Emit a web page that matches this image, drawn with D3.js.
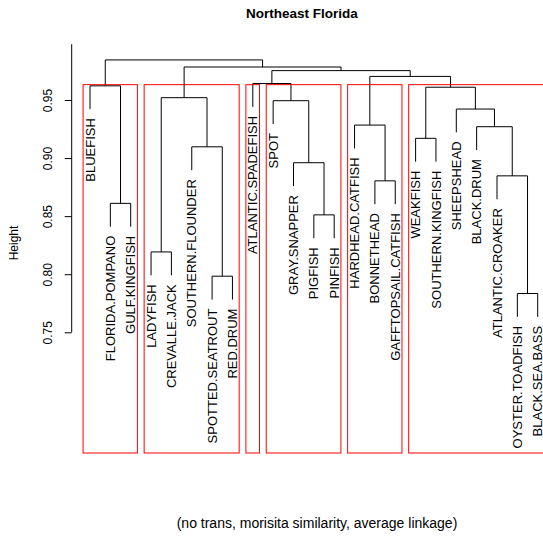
<!DOCTYPE html>
<html>
<head>
<meta charset="utf-8">
<script src="https://cdn.jsdelivr.net/npm/d3@7"></script>
<style>
  body { margin: 0; background: #fff; }
  svg { display: block; font-family: "Liberation Sans", Arial, sans-serif; }
</style>
</head>
<body>
<svg id="chart" width="543" height="538"></svg>
<script>
// leaves in dendrogram order
var labels = ["BLUEFISH", "FLORIDA.POMPANO", "GULF.KINGFISH", "LADYFISH", "CREVALLE.JACK",
  "SOUTHERN.FLOUNDER", "SPOTTED.SEATROUT", "RED.DRUM", "ATLANTIC.SPADEFISH", "SPOT",
  "GRAY.SNAPPER", "PIGFISH", "PINFISH", "HARDHEAD.CATFISH", "BONNETHEAD",
  "GAFFTOPSAIL.CATFISH", "WEAKFISH", "SOUTHERN.KINGFISH", "SHEEPSHEAD", "BLACK.DRUM",
  "ATLANTIC.CROAKER", "OYSTER.TOADFISH", "BLACK.SEA.BASS"];

// hclust style merge table: negative = leaf (1-based), positive = earlier merge row
var mergeLeft  = [-22, -7, -4, -12, -2, -15, -21, -11, -6, -17, -20, -14, -19, -10, 3, 10, -1, -9, 12, 18, 15, 17];
var mergeRight = [-23, -8, -5, -13, -3, -16, 1, 4, 2, -18, 7, 6, 11, 8, 9, 13, 5, 14, 16, 19, 20, 21];
var mergeHeight = [0.7834, 0.7983, 0.8192, 0.8511, 0.861, 0.8804, 0.8847, 0.896, 0.9097, 0.917,
  0.927, 0.9284, 0.9422, 0.9494, 0.952, 0.961, 0.9622, 0.9642, 0.9703, 0.9753, 0.9784, 0.9845];

var yTicks = [0.75, 0.80, 0.85, 0.90, 0.95];
var k = 6;

var svg = d3.select("#chart");

var xScale = d3.scaleLinear().domain([1, labels.length]).range([90, 537.7]);
var yScale = d3.scaleLinear().domain([0.75, 0.95]).range([332.3, 100]);

var hang = 0.1 * (d3.max(mergeHeight) - d3.min(mergeHeight));
var plotBottom = 453;

// node positions
var nodeX = [];
function childX(c) { return c < 0 ? xScale(-c) : nodeX[c - 1]; }
for (var i = 0; i < mergeHeight.length; i++) {
  nodeX.push((childX(mergeLeft[i]) + childX(mergeRight[i])) / 2);
}
function childY(c, parentH) { return c < 0 ? parentH - hang : mergeHeight[c - 1]; }

var tree = svg.append("g").attr("fill", "none").attr("stroke", "#000").attr("stroke-width", 1);
mergeHeight.forEach(function (h, i) {
  var l = mergeLeft[i], r = mergeRight[i];
  var p = d3.path();
  p.moveTo(childX(l), yScale(childY(l, h)));
  p.lineTo(childX(l), yScale(h));
  p.lineTo(childX(r), yScale(h));
  p.lineTo(childX(r), yScale(childY(r, h)));
  tree.append("path").attr("d", p.toString());
});

// leaf labels
var leafEnd = [];
mergeHeight.forEach(function (h, i) {
  [mergeLeft[i], mergeRight[i]].forEach(function (c) {
    if (c < 0) leafEnd[-c - 1] = h - hang;
  });
});
svg.append("g")
  .selectAll("text")
  .data(labels)
  .enter()
  .append("text")
  .attr("transform", (d, i) => "translate(" + xScale(i + 1) + "," + (yScale(leafEnd[i]) + 9) + ") rotate(-90)")
  .attr("dy", "0.35em")
  .attr("text-anchor", "end")
  .style("font-size", "13px")
  .attr("fill", "#000")
  .text(d => d);

// rect.hclust boxes: cut at top k-1 merges
var n = mergeHeight.length;
var topRows = d3.range(n - (k - 1), n).map(d => d + 1);
var clusters = [];
function leavesOf(c) {
  if (c < 0) return [-c];
  return leavesOf(mergeLeft[c - 1]).concat(leavesOf(mergeRight[c - 1]));
}
function collect(c) {
  if (c > 0 && topRows.indexOf(c) >= 0) {
    collect(mergeLeft[c - 1]);
    collect(mergeRight[c - 1]);
  } else {
    var lv = leavesOf(c);
    clusters.push([d3.min(lv), d3.max(lv)]);
  }
}
collect(n);
var boxTop = (mergeHeight[n - k] + mergeHeight[n - k + 1]) / 2;

svg.append("g")
  .selectAll("rect")
  .data(clusters)
  .enter()
  .append("rect")
  .attr("x", d => xScale(d[0] - 1 + 0.66))
  .attr("y", yScale(boxTop))
  .attr("width", d => xScale(d[1] + 0.33) - xScale(d[0] - 1 + 0.66))
  .attr("height", plotBottom - yScale(boxTop))
  .attr("fill", "none")
  .attr("stroke", "#ff0000")
  .attr("stroke-width", 1);

// y axis
var yAxis = d3.axisLeft(yScale).tickValues(yTicks).tickFormat(d3.format(".2f")).tickSize(7).tickPadding(4);
var axisG = svg.append("g")
  .attr("transform", "translate(71.7,0)")
  .call(yAxis);
axisG.select(".domain").remove();
axisG.append("line")
  .attr("y1", yScale(0.75))
  .attr("y2", yScale(0.998))
  .attr("stroke", "#000");
axisG.selectAll(".tick line").attr("stroke", "#000");
axisG.selectAll(".tick text")
  .attr("transform", "rotate(-90)")
  .attr("x", 0)
  .attr("y", -19.5)
  .attr("dy", "0em")
  .attr("text-anchor", "middle")
  .style("font-size", "12px")
  .style("font-family", "Liberation Sans, Arial, sans-serif")
  .attr("fill", "#000");

svg.append("text")
  .attr("transform", "translate(17.5,243) rotate(-90)")
  .attr("text-anchor", "middle")
  .style("font-size", "12px")
  .text("Height");

svg.append("text")
  .attr("x", 302)
  .attr("y", 18)
  .attr("text-anchor", "middle")
  .style("font-size", "13.5px")
  .style("font-weight", "bold")
  .text("Northeast Florida");

svg.append("text")
  .attr("x", 317)
  .attr("y", 528)
  .attr("text-anchor", "middle")
  .style("font-size", "14px")
  .text("(no trans, morisita similarity, average linkage)");
</script>
</body>
</html>
